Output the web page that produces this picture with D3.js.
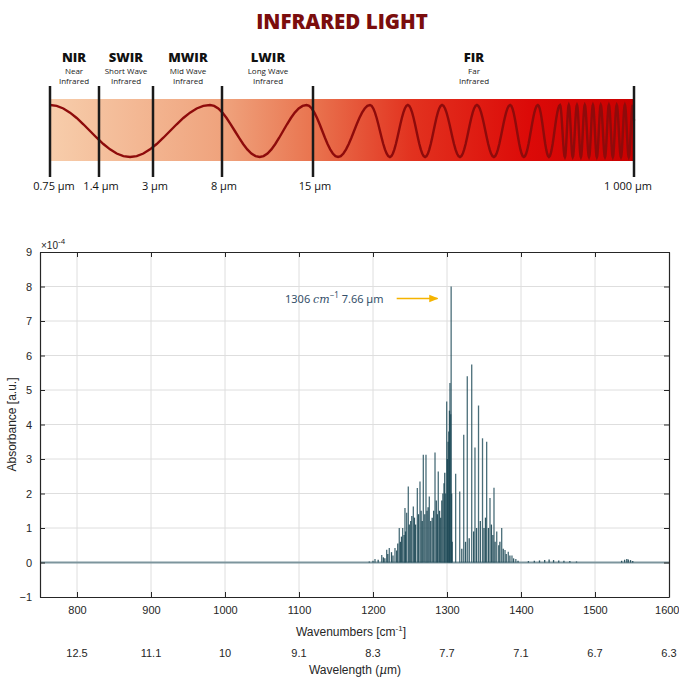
<!DOCTYPE html>
<html><head><meta charset="utf-8">
<script src="https://cdn.jsdelivr.net/npm/d3@7"></script>
<style>body{margin:0;background:#fff}svg{display:block}</style>
</head><body>
<svg id="c" width="679" height="677"></svg>
<script>
// ---------- Data ----------
const bandBoundaries = [0.75, 1.4, 3, 8, 15, 1000];
const boundaryLabels = ["0.75 µm", "1.4 µm", "3 µm", "8 µm", "15 µm", "1 000 µm"];
const bandNames = ["NIR", "SWIR", "MWIR", "LWIR", "FIR"];
const bandSub1 = ["Near", "Short Wave", "Mid Wave", "Long Wave", "Far"];
const bandSub2 = ["Infrared", "Infrared", "Infrared", "Infrared", "Infrared"];
// wave crests/troughs (alternating, start at crest), in µm on the band scale
const waveExtrema = [0.75, 2.32, 7.13, 10.9, 14.5, 92, 190, 251, 306, 359, 411, 466, 518, 570, 620, 662, 705, 739, 773,
  788, 800, 812, 825, 837, 849, 862, 874, 886, 898, 911, 923, 935, 947, 960, 972, 984, 996];

const xTicks = [800, 900, 1000, 1100, 1200, 1300, 1400, 1500, 1600];
const wavelengthLabels = ["12.5", "11.1", "10", "9.1", "8.3", "7.7", "7.1", "6.7", "6.3"];
const yTicks = [-1, 0, 1, 2, 3, 4, 5, 6, 7, 8, 9];

// strong lines: wavenumber (cm-1), absorbance (x1e-4)
const strongWn = [1202.7, 1211.8, 1218.5, 1222, 1229.7, 1235.5, 1240.1, 1243.2, 1245.5, 1247.7, 1254.5, 1259.9, 1263.5, 1268, 1271.6,
  1276.1, 1283.8, 1288.2, 1298.2, 1299.6, 1304, 1305, 1305.6,
  1311.7, 1317.2, 1322.6, 1327.4, 1333.4, 1337.8, 1342.6, 1348, 1353.6, 1358.1, 1363.5, 1367.2, 1373.9, 1378.4, 1382.8, 1387.8, 1393];
const strongAbs = [0.1, 0.22, 0.37, 0.42, 0.42, 1.0, 1.0, 1.58, 1.44, 2.2, 1.62, 2.16, 2.35, 3.12, 3.12,
  1.91, 3.19, 2.64, 2.0, 4.67, 5.2, 4.3, 8.0,
  2.57, 2.06, 3.7, 5.4, 5.74, 3.33, 4.55, 3.6, 3.5, 1.87, 2.17, 0.9, 1.0, 0.36, 0.31, 0.2, 0.1];
// weaker lines
const weakWn = [1195, 1200, 1207, 1214, 1216, 1220, 1225, 1227, 1232, 1233.5, 1237, 1238.5, 1242, 1244, 1249, 1251, 1252.5, 1256,
  1257.5, 1261.5, 1265, 1266.5, 1270, 1273, 1274.5, 1278, 1280, 1282, 1285.5, 1287, 1290, 1291.5, 1293, 1294.5, 1296, 1297,
  1300.5, 1301.5, 1302.5, 1303.3, 1306.3, 1307,
  1320, 1325, 1330, 1336, 1340, 1345, 1350, 1352, 1356, 1360, 1362, 1365, 1370, 1371.5, 1376, 1380, 1385, 1390, 1396,
  1410, 1418, 1425, 1432, 1438, 1444, 1451, 1458, 1466, 1475, 1536, 1540, 1543, 1545, 1548, 1551];
const weakAbs = [0.03, 0.05, 0.08, 0.15, 0.12, 0.25, 0.3, 0.2, 0.35, 0.55, 0.6, 0.75, 0.8, 0.9, 1.1, 1.2, 1.35, 1.3,
  1.1, 1.4, 1.5, 1.2, 1.4, 1.5, 1.6, 1.2, 1.3, 1.5, 1.8, 1.4, 1.5, 1.3, 1.8, 2.0, 2.3, 2.6,
  3.0, 3.5, 3.8, 4.4, 2.0, 0.6,
  0.4, 0.6, 0.7, 0.9, 1.0, 1.2, 1.0, 1.3, 1.0, 1.1, 0.8, 0.6, 0.5, 0.6, 0.4, 0.25, 0.2, 0.12, 0.05,
  0.04, 0.05, 0.06, 0.07, 0.09, 0.07, 0.06, 0.05, 0.04, 0.03, 0.05, 0.08, 0.1, 0.09, 0.07, 0.04];

const peakWn = 1306, peakUm = 7.66, peakAbs = 8.0;

// ---------- Drawing ----------
const svg = d3.select("#c");
const OS = "'Open Sans', 'Noto Sans', sans-serif";
const LS = "'Liberation Sans', Arial, sans-serif";

// Title
svg.append("text").attr("x", 342).attr("y", 29).attr("text-anchor", "middle")
  .attr("font-family", OS).attr("font-weight", 800).attr("font-size", 20.5)
  .attr("fill", "#7b0d0d").text("INFRARED LIGHT");

const bx = d3.scaleLinear().domain(bandBoundaries).range([50, 99, 153, 222, 313, 634]);
const bandTop = 99, bandBot = 161;

const defs = svg.append("defs");
const grad = defs.append("linearGradient").attr("id", "g").attr("x1", "0").attr("x2", "1");
[[0, "#f7cdab"], [0.3, "#efa27c"], [0.45, "#e9744f"], [0.62, "#e2321f"], [0.82, "#dc0a08"], [1, "#c90000"]]
  .forEach(([o, c]) => grad.append("stop").attr("offset", o).attr("stop-color", c));
svg.append("rect").attr("x", bx(0.75)).attr("y", bandTop).attr("width", bx(1000) - bx(0.75))
  .attr("height", bandBot - bandTop).attr("fill", "url(#g)");

// wave
const crestY = 105, troughY = 157;
const pts = [];
for (let i = 0; i < waveExtrema.length - 1; i++) {
  const x0 = bx(waveExtrema[i]), x1 = bx(waveExtrema[i + 1]);
  const y0 = i % 2 === 0 ? crestY : troughY, y1 = i % 2 === 0 ? troughY : crestY;
  for (let k = 0; k < 12; k++) {
    const t = k / 12;
    pts.push([x0 + (x1 - x0) * t, y0 + (y1 - y0) * (1 - Math.cos(Math.PI * t)) / 2]);
  }
}
{
  const last = waveExtrema.length - 1;
  const xl = bx(waveExtrema[last]), yl = last % 2 === 0 ? crestY : troughY;
  const ye = (crestY + troughY) / 2;
  pts.push([xl, yl], [bx(1000), yl + (ye - yl) * 0.6]);
}
svg.append("path").attr("d", d3.line()(pts)).attr("fill", "none")
  .attr("stroke", "#8e0b0b").attr("stroke-width", 2.4);

// boundaries
svg.selectAll(".bl").data(bandBoundaries).join("line")
  .attr("x1", d => bx(d)).attr("x2", d => bx(d)).attr("y1", 86).attr("y2", 177)
  .attr("stroke", "#1a1a1a").attr("stroke-width", 2.5);
svg.selectAll(".blab").data(bandBoundaries).join("text")
  .attr("x", (d, i) => bx(d) + (i === 0 ? 4 : i === 5 ? -6 : 2)).attr("y", 190).attr("text-anchor", "middle")
  .attr("font-family", OS).attr("font-size", 11).attr("fill", "#111")
  .text((d, i) => boundaryLabels[i]);

const nameX = [74, 126, 188, 268, 474];
bandNames.forEach((n, i) => {
  svg.append("text").attr("x", nameX[i]).attr("y", 62).attr("text-anchor", "middle")
    .attr("font-family", OS).attr("font-weight", 800).attr("font-size", 13).attr("fill", "#111").text(n);
  svg.append("text").attr("x", nameX[i]).attr("y", 74).attr("text-anchor", "middle")
    .attr("font-family", OS).attr("font-size", 8).attr("fill", "#222").text(bandSub1[i]);
  svg.append("text").attr("x", nameX[i]).attr("y", 84).attr("text-anchor", "middle")
    .attr("font-family", OS).attr("font-size", 8).attr("fill", "#222").text(bandSub2[i]);
});

// ---------- spectrum plot ----------
const L = 40, R = 669, T = 252, B = 597;
const x = d3.scaleLinear().domain([750, 1600]).range([L, R]);
const y = d3.scaleLinear().domain([-1, 9]).range([B, T]);
const axisCol = "#262626";

// grid
svg.append("g").selectAll("line").data(xTicks.slice(0, -1)).join("line")
  .attr("x1", d => x(d)).attr("x2", d => x(d)).attr("y1", T).attr("y2", B)
  .attr("stroke", "#dedede").attr("stroke-width", 1);
svg.append("g").selectAll("line").data(yTicks.slice(1, -1)).join("line")
  .attr("x1", L).attr("x2", R).attr("y1", d => y(d)).attr("y2", d => y(d))
  .attr("stroke", "#dedede").attr("stroke-width", 1);

// baseline
svg.append("line").attr("x1", x(750)).attr("x2", x(1600)).attr("y1", y(0)).attr("y2", y(0))
  .attr("stroke", "#7d959d").attr("stroke-width", 2);

// weak lines
svg.append("g").selectAll("line").data(weakWn).join("line")
  .attr("x1", d => x(d)).attr("x2", d => x(d)).attr("y1", y(0))
  .attr("y2", (d, i) => y(weakAbs[i]))
  .attr("stroke", "#1b4653").attr("stroke-width", 1.3).attr("stroke-opacity", 0.9);
// strong lines
svg.append("g").selectAll("line").data(strongWn).join("line")
  .attr("x1", d => x(d)).attr("x2", d => x(d)).attr("y1", y(0))
  .attr("y2", (d, i) => y(strongAbs[i]))
  .attr("stroke", "#1d4a57").attr("stroke-width", 1.3).attr("stroke-opacity", 0.8);

// axes
const fmt = d3.format("d");
const gB = svg.append("g").attr("transform", `translate(0,${B})`)
  .call(d3.axisBottom(x).tickValues(xTicks).tickFormat(fmt).tickSizeInner(-5).tickSizeOuter(0).tickPadding(9));
const gT = svg.append("g").attr("transform", `translate(0,${T})`)
  .call(d3.axisTop(x).tickValues(xTicks).tickSizeInner(-5).tickSizeOuter(0).tickFormat(""));
const gL = svg.append("g").attr("transform", `translate(${L},0)`)
  .call(d3.axisLeft(y).tickValues(yTicks).tickFormat(fmt).tickSizeInner(-5).tickSizeOuter(0).tickPadding(8));
const gR = svg.append("g").attr("transform", `translate(${R},0)`)
  .call(d3.axisRight(y).tickValues(yTicks).tickSizeInner(-5).tickSizeOuter(0).tickFormat(""));
[gB, gT, gL, gR].forEach(g => {
  g.selectAll("path").attr("stroke", axisCol).attr("stroke-width", 1.2);
  g.selectAll("line").attr("stroke", axisCol);
  g.selectAll("text").attr("font-family", LS).attr("font-size", 11).attr("fill", axisCol);
});
gB.selectAll(".tick text").filter(d => d === 1600).attr("text-anchor", "end").attr("dx", 10);

// wavelength labels
svg.append("g").selectAll("text").data(xTicks).join("text")
  .attr("x", d => x(d)).attr("y", 657).attr("text-anchor", "middle")
  .attr("font-family", LS).attr("font-size", 11).attr("fill", axisCol)
  .text((d, i) => wavelengthLabels[i]);

// axis titles
const xl = svg.append("text").attr("x", 351).attr("y", 636).attr("text-anchor", "middle")
  .attr("font-family", LS).attr("font-size", 12).attr("fill", axisCol);
xl.append("tspan").text("Wavenumbers [cm");
xl.append("tspan").attr("dy", -5).attr("font-size", 8).text("-1");
xl.append("tspan").attr("dy", 5).text("]");

const wl = svg.append("text").attr("x", 355).attr("y", 674).attr("text-anchor", "middle")
  .attr("font-family", LS).attr("font-size", 12).attr("fill", axisCol);
wl.append("tspan").text("Wavelength (");
wl.append("tspan").attr("font-style", "italic").attr("font-family", "'DejaVu Serif', serif").text("µ");
wl.append("tspan").text("m)");

svg.append("text").attr("transform", `translate(16,${(T + B) / 2}) rotate(-90)`)
  .attr("text-anchor", "middle").attr("font-family", LS).attr("font-size", 12).attr("fill", axisCol)
  .text("Absorbance [a.u.]");

const ex = svg.append("text").attr("x", 41).attr("y", 249).attr("font-family", LS)
  .attr("font-size", 10).attr("fill", axisCol);
ex.append("tspan").text("×10");
ex.append("tspan").attr("dy", -5).attr("font-size", 8).text("-4");

// annotation
const ann = svg.append("text").attr("x", 285).attr("y", 303).attr("font-family", "'Noto Sans', sans-serif")
  .attr("font-size", 11).attr("fill", "#34506a");
ann.append("tspan").text(peakWn + " ");
ann.append("tspan").attr("font-style", "italic").attr("font-family", "'DejaVu Serif', serif").text("cm");
ann.append("tspan").attr("dy", -5).attr("font-size", 8).text("−1");
ann.append("tspan").attr("dy", 5).text(" " + peakUm + " µm");

defs.append("marker").attr("id", "ah").attr("viewBox", "0 0 10 10").attr("refX", 9).attr("refY", 5)
  .attr("markerWidth", 7).attr("markerHeight", 7).attr("orient", "auto")
  .append("path").attr("d", "M0,1 L10,5 L0,9 Z").attr("fill", "#f5b400");
svg.append("line").attr("x1", x(1232)).attr("x2", x(peakWn) - 14).attr("y1", y(peakAbs) + 12).attr("y2", y(peakAbs) + 12)
  .attr("stroke", "#f5b400").attr("stroke-width", 1.3).attr("marker-end", "url(#ah)");
</script>
</body></html>
